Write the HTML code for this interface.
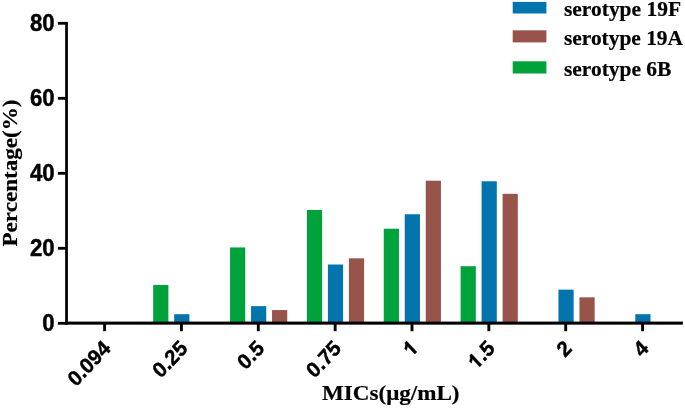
<!DOCTYPE html>
<html><head><meta charset="utf-8"><title>chart</title>
<style>
html,body{margin:0;padding:0;background:#fff;}
body{width:685px;height:408px;overflow:hidden;}
svg{display:block;will-change:transform}
.sans{font-family:"Liberation Sans",sans-serif;font-weight:bold;fill:#000;stroke:#000;stroke-width:0.4px;stroke-linejoin:round}
.serif{font-family:"Liberation Serif",serif;font-weight:bold;fill:#000;stroke:#000;stroke-width:0.2px}
</style></head><body>
<svg width="685" height="408" viewBox="0 0 685 408">
<rect width="685" height="408" fill="#fff"/>
<rect x="153.20" y="284.95" width="15.2" height="38.25" fill="#00a23b"/>
<rect x="174.20" y="314.20" width="15.2" height="9.00" fill="#0474ad"/>
<rect x="230.05" y="247.45" width="15.2" height="75.75" fill="#00a23b"/>
<rect x="251.05" y="306.14" width="15.2" height="17.06" fill="#0474ad"/>
<rect x="272.05" y="310.07" width="15.2" height="13.12" fill="#98544b"/>
<rect x="306.90" y="209.95" width="15.2" height="113.25" fill="#00a23b"/>
<rect x="327.90" y="264.51" width="15.2" height="58.69" fill="#0474ad"/>
<rect x="348.90" y="258.32" width="15.2" height="64.88" fill="#98544b"/>
<rect x="383.75" y="228.70" width="15.2" height="94.50" fill="#00a23b"/>
<rect x="404.75" y="214.26" width="15.2" height="108.94" fill="#0474ad"/>
<rect x="425.75" y="180.70" width="15.2" height="142.50" fill="#98544b"/>
<rect x="460.60" y="266.20" width="15.2" height="57.00" fill="#00a23b"/>
<rect x="481.60" y="181.26" width="15.2" height="141.94" fill="#0474ad"/>
<rect x="502.60" y="193.82" width="15.2" height="129.38" fill="#98544b"/>
<rect x="558.45" y="289.64" width="15.2" height="33.56" fill="#0474ad"/>
<rect x="579.45" y="297.32" width="15.2" height="25.88" fill="#98544b"/>
<rect x="635.30" y="314.20" width="15.2" height="9.00" fill="#0474ad"/>
<rect x="65.15" y="21.90" width="2.75" height="302.80" fill="#000"/>
<rect x="65.15" y="321.60" width="617.75" height="3.05" fill="#000"/>
<rect x="57.9" y="321.90" width="8" height="2.8" fill="#000"/>
<text class="sans" font-size="22" text-anchor="end" transform="translate(54.6,331.10) scale(1.01,1.06)">0</text>
<rect x="57.9" y="246.90" width="8" height="2.8" fill="#000"/>
<text class="sans" font-size="22" text-anchor="end" transform="translate(54.6,256.10) scale(1.01,1.06)">20</text>
<rect x="57.9" y="171.90" width="8" height="2.8" fill="#000"/>
<text class="sans" font-size="22" text-anchor="end" transform="translate(54.6,181.10) scale(1.01,1.06)">40</text>
<rect x="57.9" y="96.90" width="8" height="2.8" fill="#000"/>
<text class="sans" font-size="22" text-anchor="end" transform="translate(54.6,106.10) scale(1.01,1.06)">60</text>
<rect x="57.9" y="21.90" width="8" height="2.8" fill="#000"/>
<text class="sans" font-size="22" text-anchor="end" transform="translate(54.6,31.10) scale(1.01,1.06)">80</text>
<rect x="103.15" y="323.2" width="2.9" height="8.00" fill="#000"/>
<text class="sans" font-size="20.3" text-anchor="end" transform="translate(111.80,349.5) scale(1,1.06) rotate(-45)">0.094</text>
<rect x="180.00" y="323.2" width="2.9" height="8.00" fill="#000"/>
<text class="sans" font-size="20.3" text-anchor="end" transform="translate(188.65,349.5) scale(1,1.06) rotate(-45)">0.25</text>
<rect x="256.85" y="323.2" width="2.9" height="8.00" fill="#000"/>
<text class="sans" font-size="20.3" text-anchor="end" transform="translate(265.50,349.5) scale(1,1.06) rotate(-45)">0.5</text>
<rect x="333.70" y="323.2" width="2.9" height="8.00" fill="#000"/>
<text class="sans" font-size="20.3" text-anchor="end" transform="translate(342.35,349.5) scale(1,1.06) rotate(-45)">0.75</text>
<rect x="410.55" y="323.2" width="2.9" height="8.00" fill="#000"/>
<g transform="translate(419.20,349.5) scale(1,1.06) rotate(-45)"><path transform="translate(-11.291,0) scale(0.009912,-0.009912)" d="M806 0H525V1059Q371 915 162 846V1101Q272 1137 401 1237.5T578 1472H806Z" fill="#000" stroke="#000" stroke-width="40.4" stroke-linejoin="round"/></g>
<rect x="487.40" y="323.2" width="2.9" height="8.00" fill="#000"/>
<g transform="translate(496.05,349.5) scale(1,1.06) rotate(-45)"><path transform="translate(-28.225,0) scale(0.009912,-0.009912)" d="M806 0H525V1059Q371 915 162 846V1101Q272 1137 401 1237.5T578 1472H806Z" fill="#000" stroke="#000" stroke-width="40.4" stroke-linejoin="round"/><text class="sans" font-size="20.3" text-anchor="end">.5</text></g>
<rect x="564.25" y="323.2" width="2.9" height="8.00" fill="#000"/>
<text class="sans" font-size="20.3" text-anchor="end" transform="translate(572.90,349.5) scale(1,1.06) rotate(-45)">2</text>
<rect x="641.10" y="323.2" width="2.9" height="8.00" fill="#000"/>
<text class="sans" font-size="20.3" text-anchor="end" transform="translate(649.75,349.5) scale(1,1.06) rotate(-45)">4</text>
<text class="serif" font-size="22" text-anchor="middle" transform="translate(16.9,173.0) rotate(-90)" textLength="147" lengthAdjust="spacingAndGlyphs">Percentage(%)</text>
<text class="serif" font-size="22" x="322" y="400.3" textLength="137.5" lengthAdjust="spacingAndGlyphs">MICs(μg/mL)</text>
<rect x="512.7" y="1.9" width="33.7" height="11.6" fill="#0474ad"/>
<text class="serif" font-size="21" x="564" y="16.3" textLength="117.0" lengthAdjust="spacingAndGlyphs">serotype 19F</text>
<rect x="512.7" y="30.3" width="33.7" height="12.1" fill="#98544b"/>
<text class="serif" font-size="21" x="564" y="44.7" textLength="119.0" lengthAdjust="spacingAndGlyphs">serotype 19A</text>
<rect x="512.7" y="61.3" width="33.7" height="12.2" fill="#00a23b"/>
<text class="serif" font-size="21" x="564" y="75.9" textLength="107.3" lengthAdjust="spacingAndGlyphs">serotype 6B</text>
</svg></body></html>
